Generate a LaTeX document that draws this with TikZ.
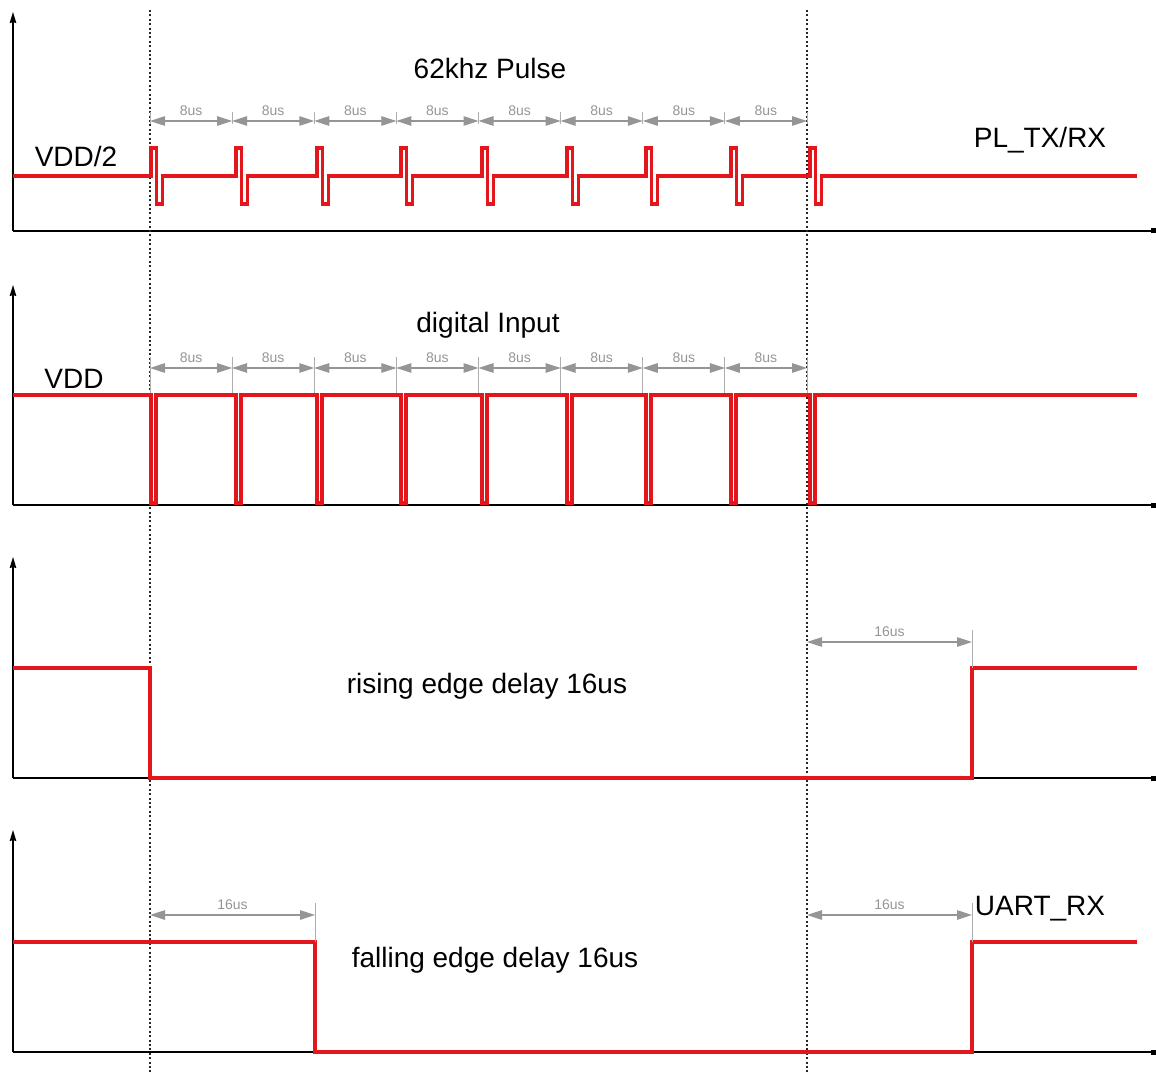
\documentclass[tikz,border=0pt]{standalone}
\usepackage{fontspec}
\setmainfont{Liberation Sans}
\usepackage{xcolor}
\usetikzlibrary{arrows.meta,calc}
\definecolor{sigred}{HTML}{E3161B}
\definecolor{dimgray}{HTML}{959595}
\definecolor{guidegray}{HTML}{262626}
\tikzset{
  axisline/.style={draw=black,line width=1.3pt},
  yax/.style={axisline,-{Stealth[length=11pt,width=6.5pt,inset=1pt]}},
  xax/.style={axisline,-{Square[length=5pt,width=5pt]}},
  sig/.style={draw=sigred,line width=3.6pt,line join=miter},
  guide/.style={draw=guidegray,line width=2pt,dash pattern=on 2pt off 2.4pt},
  dim/.style={draw=dimgray,line width=1.1pt,
              {Triangle[length=15pt,width=9.5pt]}-{Triangle[length=15pt,width=9.5pt]}},
  dimtick/.style={draw=dimgray!75,line width=0.8pt},
  lbl/.style={font=\fontsize{28}{32}\selectfont,inner sep=0pt,text height=20pt,text depth=0pt},
  dlbl/.style={font=\fontsize{14}{16}\selectfont,text=dimgray,inner sep=0pt,text height=10pt,text depth=0pt}
}

\begin{document}
\begin{tikzpicture}[x=1pt,y=-1pt]
\useasboundingbox (0,0) rectangle (1156,1075);

\foreach \yb/\yt in {231/12,505/285,778/557,1052/830}{
  \draw[yax] (13,\yb) -- (13,\yt);
  \draw[xax] (13,\yb) -- (1156,\yb);
}

\draw[guide] (150,10) -- (150,1075);
\draw[guide] (807,10) -- (807,1075);

% panel 1
\draw[sig] (13,176) \foreach \x in {151,236,317,401,482,567,646,731,810}
  { -- (\x,176) -- ++(0,-28) -- ++(5.5,0) -- ++(0,56) -- ++(6,0) -- ++(0,-28) } -- (1137,176);
\foreach \i in {0,...,8}{
  \coordinate (pa\i) at ({150+82.125*\i},121);
  \coordinate (pb\i) at ({150+82.125*\i},368);
  \draw[dimtick] ($(pa\i)+(0,-9)$) -- ($(pa\i)+(0,3)$);
  \draw[dimtick] ($(pb\i)+(0,-11)$) -- ($(pb\i)+(0,27)$);
}
\foreach \i [count=\j from 1] in {0,...,7}{
  \draw[dim] (pa\i) -- node[dlbl,above=4.5pt] {8us} (pa\j);
  \draw[dim] (pb\i) -- node[dlbl,above=4.5pt] {8us} (pb\j);
}
\node[lbl] (pulse) at (490,69) {62khz Pulse};
\node[lbl] (half) at (76,157) {VDD/2};
\node[lbl] (pltx) at (1040,138) {PL\_TX/RX};

% panel 2
\draw[sig] (13,395) \foreach \x in {151,236,317,401,482,567,646,731,810}
  { -- (\x,395) -- ++(0,108) -- ++(5,0) -- ++(0,-108) } -- (1137,395);
\node[lbl] (dig) at (488,322) {digital Input};
\node[lbl] (vdd) at (74,378) {VDD};

% panel 3
\draw[sig] (13,668) -- (150,668) -- (150,778) -- (972,778) -- (972,668) -- (1137,668);
\coordinate (ra) at (807,642);
\coordinate (rb) at (972,642);
\draw[dimtick] ($(rb)+(0,-12)$) -- ($(rb)+(0,26)$);
\draw[dim] (ra) -- node[dlbl,above=5pt] {16us} (rb);
\node[lbl] (rise) at (487,683) {rising edge delay 16us};

% panel 4
\draw[sig] (13,942) -- (315,942) -- (315,1052) -- (972,1052) -- (972,942) -- (1137,942);
\coordinate (fa) at (150,915);
\coordinate (fb) at (315,915);
\coordinate (fc) at (807,915);
\coordinate (fd) at (972,915);
\draw[dimtick] ($(fb)+(0,-12)$) -- ($(fb)+(0,27)$);
\draw[dimtick] ($(fd)+(0,-12)$) -- ($(fd)+(0,27)$);
\draw[dim] (fa) -- node[dlbl,above=5pt] {16us} (fb);
\draw[dim] (fc) -- node[dlbl,above=5pt] {16us} (fd);
\node[lbl] (fall) at (495,957) {falling edge delay 16us};
\node[lbl] (uart) at (1040,905) {UART\_RX};
\end{tikzpicture}
\end{document}
